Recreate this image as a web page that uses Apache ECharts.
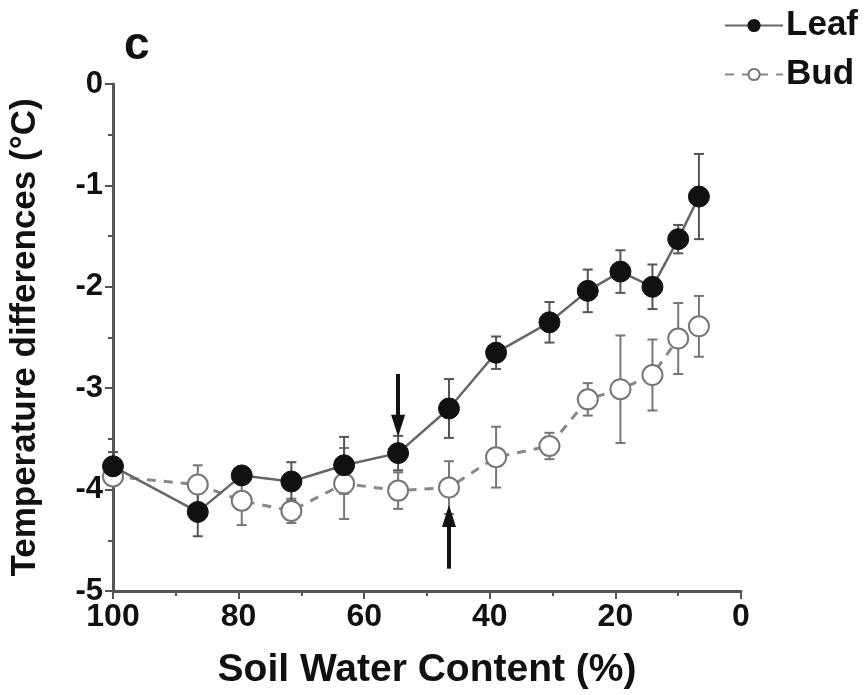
<!DOCTYPE html>
<html>
<head>
<meta charset="utf-8">
<script src="https://cdn.jsdelivr.net/npm/echarts@6/dist/echarts.min.js"></script>
<style>
    html,body{margin:0;padding:0;background:#fff;}
    #chart-div{width:867px;height:695px;}
</style>
</head>
<body>
<div id="chart-div"></div>
<script>
// soil water content (%), shared by both series
var swc=[100,86.5,79.5,71.6,63.2,54.6,46.5,39.0,30.5,24.4,19.2,14.1,10.0,6.7];
var leaf=[-3.77,-4.22,-3.86,-3.92,-3.76,-3.64,-3.20,-2.65,-2.35,-2.04,-1.85,-2.00,-1.53,-1.11];
var leafErr=[0.14,0.24,0.06,0.19,0.28,0.17,0.29,0.16,0.20,0.21,0.21,0.22,0.14,0.42];
var bud=[-3.87,-3.95,-4.11,-4.21,-3.94,-4.01,-3.98,-3.68,-3.57,-3.11,-3.01,-2.87,-2.51,-2.39];
var budErr=[0.06,0.19,0.24,0.12,0.35,0.18,0.26,0.30,0.13,0.16,0.53,0.35,0.35,0.30];
var xTicks=[100,80,60,40,20,0];
var yTicks=[0,-1,-2,-3,-4,-5];
// arrows: [x, from y, to y]
var arrowDown=[54.6,-2.86,-3.37];
var arrowUp=[46.5,-4.78,-4.26];

(function(){
    var font='"Liberation Sans", Arial, sans-serif';

    function pairs(xs,ys){
        var out=[];
        for(var i=0;i<xs.length;i++){
            out.push([xs[i],ys[i]]);
        }
        return out;
    };

    function errData(xs,ys,es){
        var out=[];
        for(var i=0;i<xs.length;i++){
            out.push([xs[i],ys[i]-es[i],ys[i]+es[i]]);
        }
        return out;
    };

    function errSeries(data,color,z){                                       //误差线
        return {
            type:'custom',
            z:z,
            silent:true,
            data:data,
            renderItem:function(params,api){
                var x=api.value(0);
                var lo=api.coord([x,api.value(1)]);
                var hi=api.coord([x,api.value(2)]);
                var w=5;
                var st={stroke:color,lineWidth:2};
                return {
                    type:'group',
                    children:[
                        {type:'line',shape:{x1:lo[0],y1:lo[1],x2:hi[0],y2:hi[1]},style:st},
                        {type:'line',shape:{x1:lo[0]-w,y1:lo[1],x2:lo[0]+w,y2:lo[1]},style:st},
                        {type:'line',shape:{x1:hi[0]-w,y1:hi[1],x2:hi[0]+w,y2:hi[1]},style:st}
                    ]
                };
            }
        };
    };

    function arrowSeries(a){                                                //箭头
        return {
            type:'line',
            data:[],
            silent:true,
            markLine:{
                silent:true,
                symbol:['none','triangle'],
                symbolSize:[14,22],
                lineStyle:{color:'#111',width:4,type:'solid'},
                label:{show:false},
                data:[[{coord:[a[0],a[1]]},{coord:[a[0],a[2]]}]]
            }
        };
    };

    var myChart=echarts.init(document.getElementById('chart-div'));
    var option={
        backgroundColor:'#fff',
        animation:false,
        grid:{left:111,right:126,top:84,bottom:103},
        legend:{
            right:4,
            top:3,
            orient:'vertical',
            itemWidth:58,
            itemHeight:14,
            itemGap:14,
            textStyle:{fontFamily:font,fontWeight:'bold',fontSize:35,color:'#111',padding:[0,0,0,-2]},
            data:['Leaf','Bud']
        },
        title:{
            text:'c',
            left:119,
            top:18,
            textStyle:{fontFamily:font,fontWeight:'bold',fontSize:46,color:'#111'}
        },
        xAxis:{
            type:'value',
            inverse:true,
            position:'bottom',
            min:0,
            max:100,
            interval:20,
            name:'Soil Water Content (%)',
            nameLocation:'middle',
            nameGap:60,
            nameTextStyle:{fontFamily:font,fontWeight:'bold',fontSize:39,color:'#111'},
            axisLine:{onZero:false,lineStyle:{color:'#555',width:3}},
            axisTick:{inside:false,length:8,lineStyle:{color:'#555',width:2}},
            minorTick:{show:true,splitNumber:2,length:5,lineStyle:{color:'#555',width:2}},
            axisLabel:{fontFamily:font,fontWeight:'bold',fontSize:32,color:'#111',margin:10,
                formatter:function(v){return xTicks.indexOf(v)>=0?String(v):'';}},
            splitLine:{show:false}
        },
        yAxis:{
            type:'value',
            position:'left',
            min:-5,
            max:0,
            interval:1,
            name:'Temperature differences (°C)',
            nameLocation:'middle',
            nameGap:70,
            nameTextStyle:{fontFamily:font,fontWeight:'bold',fontSize:35,color:'#111'},
            axisLine:{show:true,onZero:false,lineStyle:{color:'#555',width:3}},
            axisTick:{show:true,length:8,lineStyle:{color:'#555',width:2}},
            minorTick:{show:true,splitNumber:2,length:5,lineStyle:{color:'#555',width:2}},
            axisLabel:{fontFamily:font,fontWeight:'bold',fontSize:31,color:'#111',margin:10,
                formatter:function(v){return yTicks.indexOf(v)>=0?String(v):'';}},
            splitLine:{show:false}
        },
        series:[
            errSeries(errData(swc,bud,budErr),'#777',2),
            errSeries(errData(swc,leaf,leafErr),'#555',3),
            {
                name:'Bud',
                type:'line',
                z:4,
                data:pairs(swc,bud),
                symbol:'circle',
                symbolSize:20,
                itemStyle:{color:'#fff',borderColor:'#777',borderWidth:2},
                lineStyle:{color:'#888',width:3,type:[9,8]}
            },
            {
                name:'Leaf',
                type:'line',
                z:5,
                data:pairs(swc,leaf),
                symbol:'circle',
                symbolSize:21,
                itemStyle:{color:'#111',borderColor:'#111',borderWidth:1},
                lineStyle:{color:'#666',width:2.5,type:'solid'}
            },
            arrowSeries(arrowDown),
            arrowSeries(arrowUp)
        ]
    };
    myChart.setOption(option);
})();
</script>
</body>
</html>
